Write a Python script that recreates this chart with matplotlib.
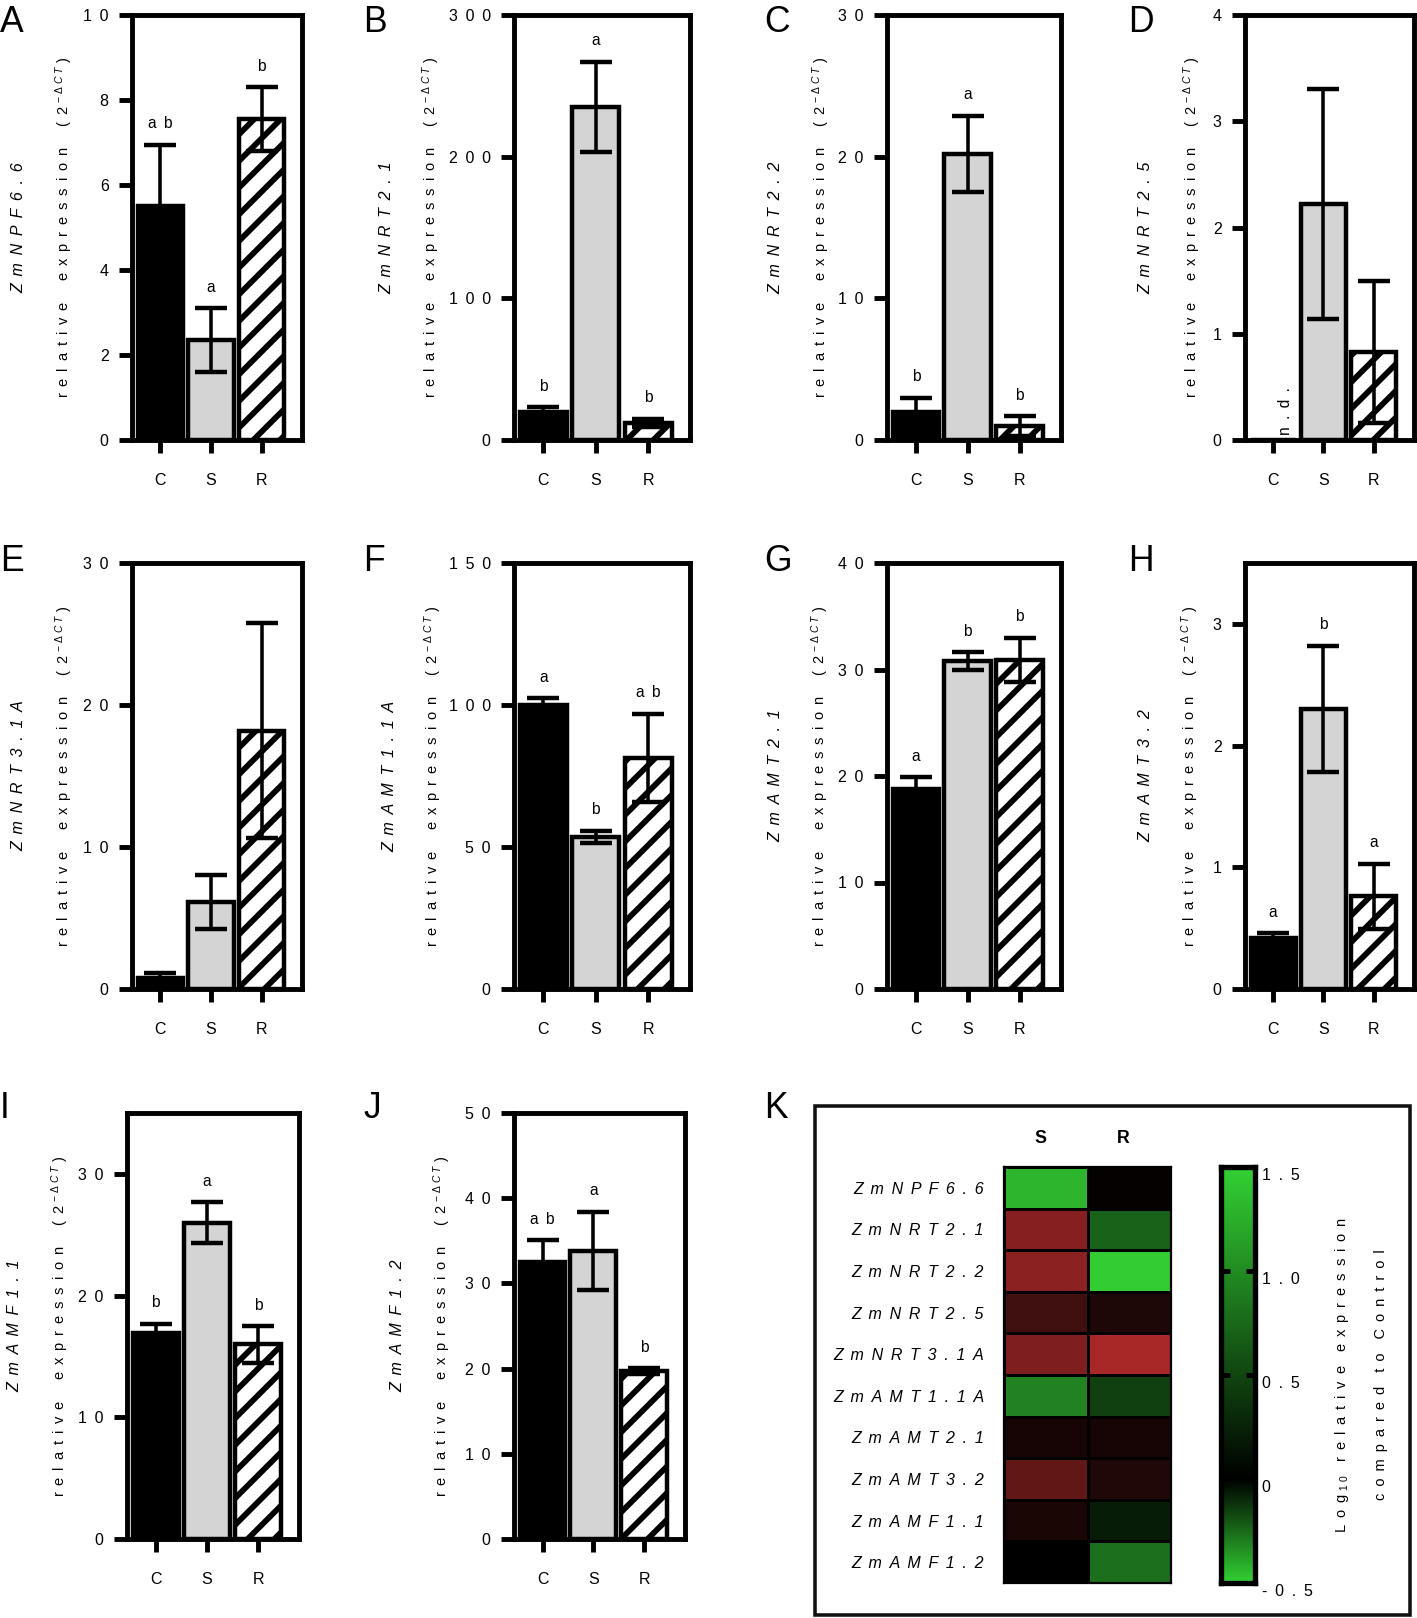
import numpy as np
import matplotlib
matplotlib.use("Agg")
import matplotlib.pyplot as plt
from matplotlib.colors import LinearSegmentedColormap, Normalize
from matplotlib.patches import Rectangle
import matplotlib.transforms as mtransforms

plt.rcParams['font.family'] = ['Liberation Sans', 'DejaVu Sans']
plt.rcParams['mathtext.fontset'] = 'custom'
plt.rcParams['mathtext.rm'] = 'Liberation Sans'
plt.rcParams['mathtext.it'] = 'Liberation Sans:italic'
plt.rcParams['hatch.linewidth'] = 2.6
plt.rcParams['hatch.color'] = 'black'

# ---- data ----
conditions = ["C", "S", "R"]
genes = ["ZmNPF6.6", "ZmNRT2.1", "ZmNRT2.2", "ZmNRT2.5", "ZmNRT3.1A",
         "ZmAMT1.1A", "ZmAMT2.1", "ZmAMT3.2", "ZmAMF1.1", "ZmAMF1.2"]

npf66_mean = [5.5, 2.35, 7.55]
npf66_err = [1.45, 0.75, 0.75]
nrt21_mean = [20, 235, 12]
nrt21_err = [3, 32, 3]
nrt22_mean = [2.0, 20.2, 1.0]
nrt22_err = [1.0, 2.7, 0.7]
nrt25_mean = [0, 2.22, 0.83]
nrt25_err = [0, 1.08, 0.67]
nrt31a_mean = [0.8, 6.1, 18.2]
nrt31a_err = [0.35, 1.9, 7.6]
amt11a_mean = [100, 53.5, 81.5]
amt11a_err = [2.5, 2.2, 15.5]
amt21_mean = [18.8, 30.8, 30.9]
amt21_err = [1.1, 0.8, 2.1]
amt32_mean = [0.42, 2.3, 0.76]
amt32_err = [0.04, 0.52, 0.27]
amf11_mean = [16.9, 26.0, 16.0]
amf11_err = [0.8, 1.7, 1.5]
amf12_mean = [32.5, 33.8, 19.7]
amf12_err = [2.6, 4.6, 0.35]

letters_A = ["a b", "a", "b"]
letters_B = ["b", "a", "b"]
letters_C = ["b", "a", "b"]
letters_F = ["a", "b", "a b"]
letters_G = ["a", "b", "b"]
letters_H = ["a", "b", "a"]
letters_I = ["b", "a", "b"]
letters_J = ["a b", "a", "b"]

# log10 relative expression compared to control (S, R)
heat_S = [-0.44, 1.15, 1.2, 0.55, 1.1, -0.32, 0.2, 0.85, 0.23, 0.0]
heat_R = [0.05, -0.24, -0.5, 0.25, 1.45, -0.15, 0.2, 0.28, -0.07, -0.27]
cbar_ticks = [-0.5, 0, 0.5, 1.0, 1.5]
cbar_ticklabels = ["-0.5", "0", "0.5", "1.0", "1.5"]

# ---- layout (figure pixels) ----
W, H, DPI = 1417, 1618, 160
fig = plt.figure(figsize=(W / DPI, H / DPI), dpi=DPI)
fig.patch.set_facecolor('white')

SEP = " \u2009"


def add_ax(x0, x1, y0, y1):
    return fig.add_axes([x0 / W, 1 - y1 / H, (x1 - x0) / W, (y1 - y0) / H])


def spaced(s, sep=SEP):
    return sep.join(s)


def spaced_words(s, gap=3, sep=SEP):
    return (sep * gap).join(spaced(w, sep) for w in s.split(" "))


col1, col2, col3, col4 = (132, 302), (514, 690), (887, 1061), (1245, 1414)
row1, row2, row3 = (15, 440), (563, 989), (1113, 1539)

panels = [
    # letter, gene, mean, err, letters, ymax, ticks, box, label x (gene, line2), letter pos
    ("A", genes[0], npf66_mean, npf66_err, letters_A, 10, [0, 2, 4, 6, 8, 10], col1 + row1, (19, 64), (0, 5)),
    ("B", genes[1], nrt21_mean, nrt21_err, letters_B, 300, [0, 100, 200, 300], col2 + row1, (387, 431), (363, 5)),
    ("C", genes[2], nrt22_mean, nrt22_err, letters_C, 30, [0, 10, 20, 30], col3 + row1, (776, 821), (764, 5)),
    ("D", genes[3], nrt25_mean, nrt25_err, None, 4, [0, 1, 2, 3, 4], col4 + row1, (1146, 1192), (1128, 5)),
    ("E", genes[4], nrt31a_mean, nrt31a_err, None, 30, [0, 10, 20, 30], col1 + row2, (19, 64), (0, 544)),
    ("F", genes[5], amt11a_mean, amt11a_err, letters_F, 150, [0, 50, 100, 150], col2 + row2, (390, 433), (363, 544)),
    ("G", genes[6], amt21_mean, amt21_err, letters_G, 40, [0, 10, 20, 30, 40], col3 + row2, (776, 820), (764, 544)),
    ("H", genes[7], amt32_mean, amt32_err, letters_H, 3.5, [0, 1, 2, 3], col4 + row2, (1146, 1190), (1128, 544)),
    ("I", genes[8], amf11_mean, amf11_err, letters_I, 35, [0, 10, 20, 30], (127, 299) + row3, (15, 60), (0, 1091)),
    ("J", genes[9], amf12_mean, amf12_err, letters_J, 50, [0, 10, 20, 30, 40, 50], (514, 685) + row3, (398, 442), (363, 1091)),
]

face = ["black", "#d4d4d4", "white"]
hatches = [None, None, "//"]
x = np.arange(3)
line2 = spaced_words("relative expression (2") + " $^{-\\ Δ\\ C\\ T}$ )"

for (plet, gene, mean, err, lets, ymax, ticks, box, labx, ppos) in panels:
    x0, x1, y0, y1 = box
    ax = add_ax(x0, x1, y0, y1)
    for i in range(3):
        ax.bar(x[i], mean[i], width=0.9, color=face[i], edgecolor="black",
               linewidth=2.0, hatch=hatches[i], zorder=2)
    show = [m > 0 for m in mean]
    ax.errorbar(x[show], np.array(mean)[show], yerr=np.array(err)[show], fmt="none",
                ecolor="black", elinewidth=1.6, capsize=7, capthick=2.0, zorder=3)
    if lets:
        for i in range(3):
            ax.annotate(spaced(lets[i].replace(" ", "")), (x[i], mean[i] + err[i]), xytext=(0, 6),
                        textcoords="offset points", ha="center", va="bottom", fontsize=7)
    if plet == "D":
        ax.text(x[0] + 0.25, ymax * 0.012, spaced("n.d."), rotation=90, ha="center",
                va="bottom", fontsize=7)
    ax.set_xlim(-0.56, 2.8)
    ax.set_ylim(0, ymax)
    ax.set_yticks(ticks)
    ax.set_yticklabels([spaced(str(t)) for t in ticks])
    ax.set_xticks(x)
    ax.set_xticklabels(conditions)
    for sp in ax.spines.values():
        sp.set_linewidth(2.2)
    ax.tick_params(axis="y", length=6, width=2.2, pad=4.5, labelsize=7.2)
    ax.tick_params(axis="x", length=6, width=2.2, pad=9, labelsize=7.2)
    yc = 1 - (y0 + y1) / 2 / H
    fig.text(labx[0] / W, yc, spaced(gene), rotation=90, ha="center", va="center",
             fontsize=7.2, style="italic")
    fig.text(labx[1] / W, yc, line2, rotation=90, ha="center", va="center", fontsize=6.6)
    fig.text(ppos[0] / W, 1 - ppos[1] / H, plet, ha="left", va="top", fontsize=16)

# ---- panel K ----
fig.text(764 / W, 1 - 1091 / H, "K", ha="left", va="top", fontsize=16)
fig.add_artist(Rectangle((815 / W, 1 - 1615 / H), (1410 - 815) / W, (1615 - 1106) / H,
                         transform=fig.transFigure, fill=False, edgecolor="#111111",
                         linewidth=1.6))

heat_cmap = LinearSegmentedColormap.from_list(
    "gr", [(0.0, (0.2, 0.8, 0.2)), (0.25, (0, 0, 0)), (1.0, (0.68, 0.16, 0.16))])
bar_cmap = LinearSegmentedColormap.from_list(
    "gg", [(0.0, (0.2, 0.82, 0.2)), (0.25, (0, 0, 0)), (1.0, (0.2, 0.82, 0.2))])
norm = Normalize(-0.5, 1.5)

hax = add_ax(1004, 1171, 1167, 1583)
heat = np.column_stack([heat_S, heat_R])
hax.pcolormesh(heat, cmap=heat_cmap, norm=norm, edgecolors="black", linewidth=1.2)
hax.set_ylim(len(genes), 0)
hax.set_xlim(0, 2)
hax.set_xticks([0.5, 1.5])
hax.set_xticklabels(["S", "R"], fontweight="bold", fontsize=8)
hax.xaxis.tick_top()
hax.set_yticks(np.arange(len(genes)) + 0.5)
hax.set_yticklabels([spaced(g) for g in genes], style="italic", fontsize=7.2)
hax.tick_params(length=0)
hax.tick_params(axis="y", pad=9)
hax.tick_params(axis="x", pad=9)
for lab in hax.get_xticklabels():
    lab.set_transform(lab.get_transform() +
                      mtransforms.ScaledTranslation(-2.5 / 72, 0, fig.dpi_scale_trans))
for sp in hax.spines.values():
    sp.set_linewidth(1.0)

cax = add_ax(1221, 1255, 1167, 1583)
grad = np.linspace(-0.5, 1.5, 256).reshape(-1, 1)
cax.imshow(grad, cmap=bar_cmap, norm=norm, aspect="auto", origin="lower",
           extent=(0, 1, -0.5, 1.5))
cax.set_xticks([])
cax.yaxis.tick_right()
cax.set_yticks(cbar_ticks)
cax.set_yticklabels([spaced(t) for t in cbar_ticklabels])
cax.tick_params(axis="y", direction="in", length=4, width=2.2, pad=3, labelsize=7.2,
                left=True)
for sp in cax.spines.values():
    sp.set_linewidth(2.4)
off = mtransforms.ScaledTranslation(0, -3 / 72, fig.dpi_scale_trans)
for lab in cax.get_yticklabels():
    lab.set_transform(lab.get_transform() + off)

ycb = 1 - (1167 + 1583) / 2 / H
fig.text(1342 / W, ycb, spaced("Log") + " $_{1\\ 0}$" + SEP * 2 + spaced_words("relative expression", 2),
         rotation=90, ha="center", va="center", fontsize=6.6)
fig.text(1381 / W, ycb, spaced_words("compared to Control", 2),
         rotation=90, ha="center", va="center", fontsize=6.6)

fig.savefig("out.png", dpi=DPI, facecolor="white")
